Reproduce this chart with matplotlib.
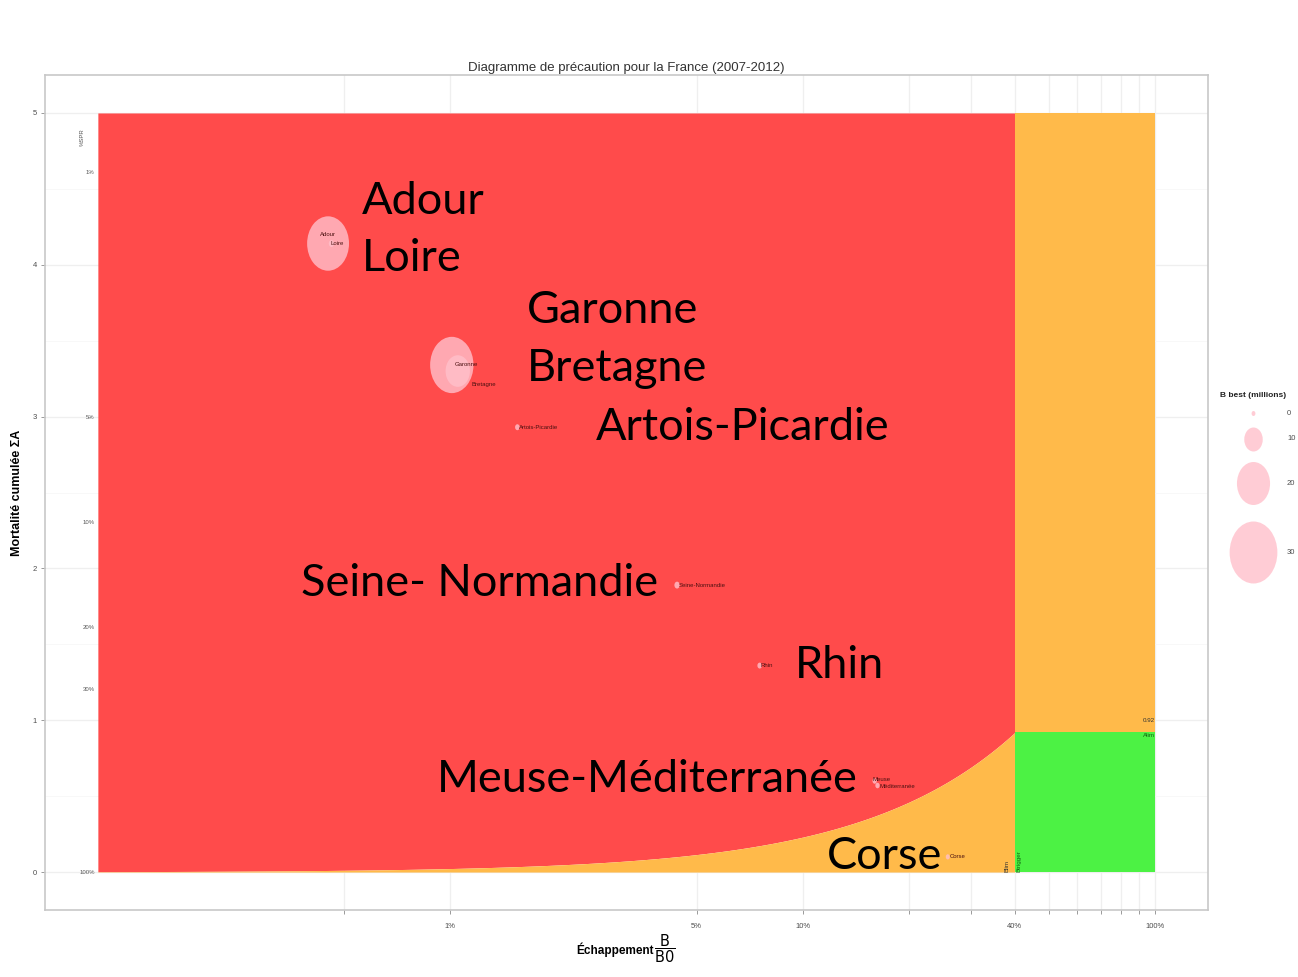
import numpy as np
import matplotlib
matplotlib.use("Agg")
import matplotlib.pyplot as plt
from matplotlib.path import Path

# ---------------- data ----------------
stocks = ["Adour", "Loire", "Garonne", "Bretagne", "Artois-Picardie",
          "Seine-Normandie", "Rhin", "Meuse", "Méditerranée", "Corse"]
escapement = [0.0045, 0.0046, 0.0101, 0.0105, 0.0155, 0.044, 0.0755, 0.160, 0.163, 0.258]
mortality = [4.14, 4.14, 3.34, 3.30, 2.93, 1.89, 1.36, 0.60, 0.57, 0.10]
b_best = [26, 1, 27, 14, 0.5, 1, 0.5, 0.3, 0.3, 0.1]

x_ticks = [0.005, 0.01, 0.05, 0.1, 0.2, 0.3, 0.4, 0.5, 0.6, 0.7, 0.8, 0.9, 1.0]
x_ticklabels = ["", "1%", "5%", "10%", "", "", "40%", "", "", "", "", "", "100%"]
y_ticks = [0, 1, 2, 3, 4, 5]
spr_values = [1, 5, 10, 20, 30, 100]
legend_values = [0, 10, 20, 30]

b_lim = 0.4
a_lim = 0.92
x_min, x_max, y_max = 0.001, 1.0, 5

big_labels = ["Adour", "Loire", "Garonne", "Bretagne", "Artois-Picardie",
              "Seine- Normandie", "Rhin", "Meuse-Méditerranée", "Corse"]

# ---------------- style ----------------
W, H, DPI = 1298, 977, 100
RED, ORANGE, GREEN = "#FF4B4B", "#FFBA4A", "#4CF244"
PINK = "#FFC0CB"
NARROW = ["Liberation Sans Narrow", "Liberation Sans", "DejaVu Sans"]
plt.rcParams["font.family"] = NARROW

fig = plt.figure(figsize=(W / DPI, H / DPI), dpi=DPI)
ax = fig.add_axes([45 / W, 1 - 910 / H, (1208 - 45) / W, (910 - 75) / H])
ax.set_xscale("log")
ax.set_xlim(10 ** -3.15, 10 ** 0.15)
ax.set_ylim(-0.25, 5.25)

# grid
ax.set_axisbelow(True)
ax.grid(True, which="major", color="#EFEFEF", lw=0.9)
ax.set_yticks([0.5, 1.5, 2.5, 3.5, 4.5], minor=True)
ax.grid(True, which="minor", axis="y", color="#F6F6F6", lw=0.5)
ax.xaxis.set_minor_locator(matplotlib.ticker.NullLocator())
ax.tick_params(axis="y", which="minor", length=0)

# zones
xs = np.logspace(np.log10(x_min), np.log10(b_lim), 300)
curve = a_lim * xs / b_lim
ax.fill_between(xs, curve, y_max, color=RED, lw=0, zorder=1)
ax.fill_between(xs, 0, curve, color=ORANGE, lw=0, zorder=1)
ax.fill_between([b_lim, x_max], a_lim, y_max, color=ORANGE, lw=0, zorder=1)
ax.fill_between([b_lim, x_max], 0, a_lim, color=GREEN, lw=0, zorder=1)

# bubbles (elliptic markers as in the reference)
circ = Path.unit_circle()
ell = Path(circ.vertices * np.array([0.77, 1.0]), circ.codes)


def size_of(b):
    h_px = 5 + 1.9 * b
    return (h_px * 0.72) ** 2


ax.scatter(escapement, mortality, s=[size_of(b) for b in b_best], marker=ell,
           color=PINK, alpha=0.8, lw=0, zorder=3)

offsets = {"Adour": (-8, 9), "Loire": (-1, 0), "Garonne": (3, 0),
           "Bretagne": (14, -13), "Artois-Picardie": (2, 0),
           "Seine-Normandie": (2, 0), "Rhin": (1, 0), "Meuse": (-2, 1),
           "Méditerranée": (2, -1), "Corse": (2, 0)}
for name, x, y in zip(stocks, escapement, mortality):
    dx, dy = offsets[name]
    ax.annotate(name, (x, y), xytext=(dx, dy), textcoords="offset pixels",
                ha="left", va="center", fontsize=4.3, color="#4A1010", zorder=4)

# reference texts
ax.text(x_max, a_lim + 0.08, "0.92", ha="right", va="center", fontsize=4.5,
        color="#333333", zorder=4)
ax.text(x_max, a_lim - 0.02, "Alim", ha="right", va="center", fontsize=4.5,
        color="#116611", zorder=4)
ax.text(0.38, 0.0, "Blim", rotation=90, ha="center", va="bottom", fontsize=4.5,
        color="#333333", zorder=4)
ax.text(0.41, 0.0, "Btrigger", rotation=90, ha="center", va="bottom", fontsize=4.5,
        color="#116611", zorder=4)

# %SPR secondary labels
for v in spr_values:
    ax.text(0.00098, -np.log(v / 100.0), f"{v}%", ha="right", va="center",
            fontsize=4.3, color="#555555", zorder=4)
ax.text(0.00092, 4.84, "%SPR", rotation=90, ha="right", va="center",
        fontsize=4.3, color="#555555")

# axes styling
ax.set_xticks(x_ticks)
ax.set_xticklabels(x_ticklabels)
ax.set_yticks(y_ticks)
ax.set_yticklabels([str(v) for v in y_ticks])
ax.tick_params(axis="both", which="major", labelsize=5.5, labelcolor="#4D4D4D",
               color="#8A8A8A", length=3, width=0.6, pad=3)
ax.tick_params(axis="x", which="major", pad=6)
for sp in ax.spines.values():
    sp.set_color("#C8C8C8")
    sp.set_linewidth(1.2)

ax.set_title("Diagramme de précaution pour la France (2007-2012)", fontsize=9.5,
             color="#333333", pad=3)
# x axis title: word + fraction
fig.text(654 / W, 1 - 950 / H, "Échappement", fontsize=8.5, fontweight="bold",
         ha="right", va="center")
fig.text(665 / W, 1 - 949 / H, r"$\dfrac{\mathrm{B}}{\mathrm{B0}}$", fontsize=10.5,
         ha="center", va="center")
ax.set_ylabel("Mortalité cumulée ΣA", fontsize=9, fontweight="bold", labelpad=7)

# legend
lax = fig.add_axes([1210 / W, 1 - 600 / H, (W - 1210) / W, (600 - 385) / H])
lax.set_xlim(1210, W)
lax.set_ylim(600, 385)
lax.axis("off")
lax.text(1220, 395, "B best (millions)", fontsize=6, fontweight="bold",
         ha="left", va="center", color="#222222")
leg_y = [413, 439, 483, 552]
for v, yy in zip(legend_values, leg_y):
    lax.scatter([1253], [yy], s=size_of(v), marker=ell, color=PINK, alpha=0.8,
                lw=0, clip_on=False)
    lax.text(1287, yy, str(v), fontsize=5.5, ha="left", va="center",
             color="#4D4D4D", clip_on=False)

# big overlay annotations (figure pixel positions, baselines)
big_pos = [(362, 214), (362, 271), (527, 323), (527, 381), (596, 440),
           (301, 596), (795, 678), (437, 792), (827, 869)]
for txt, (px, py) in zip(big_labels, big_pos):
    fig.text(px / W, 1 - py / H, txt, fontsize=32.5, family=["Lato", "DejaVu Sans"],
             ha="left", va="baseline", color="black")

fig.savefig("out.png", dpi=DPI)
